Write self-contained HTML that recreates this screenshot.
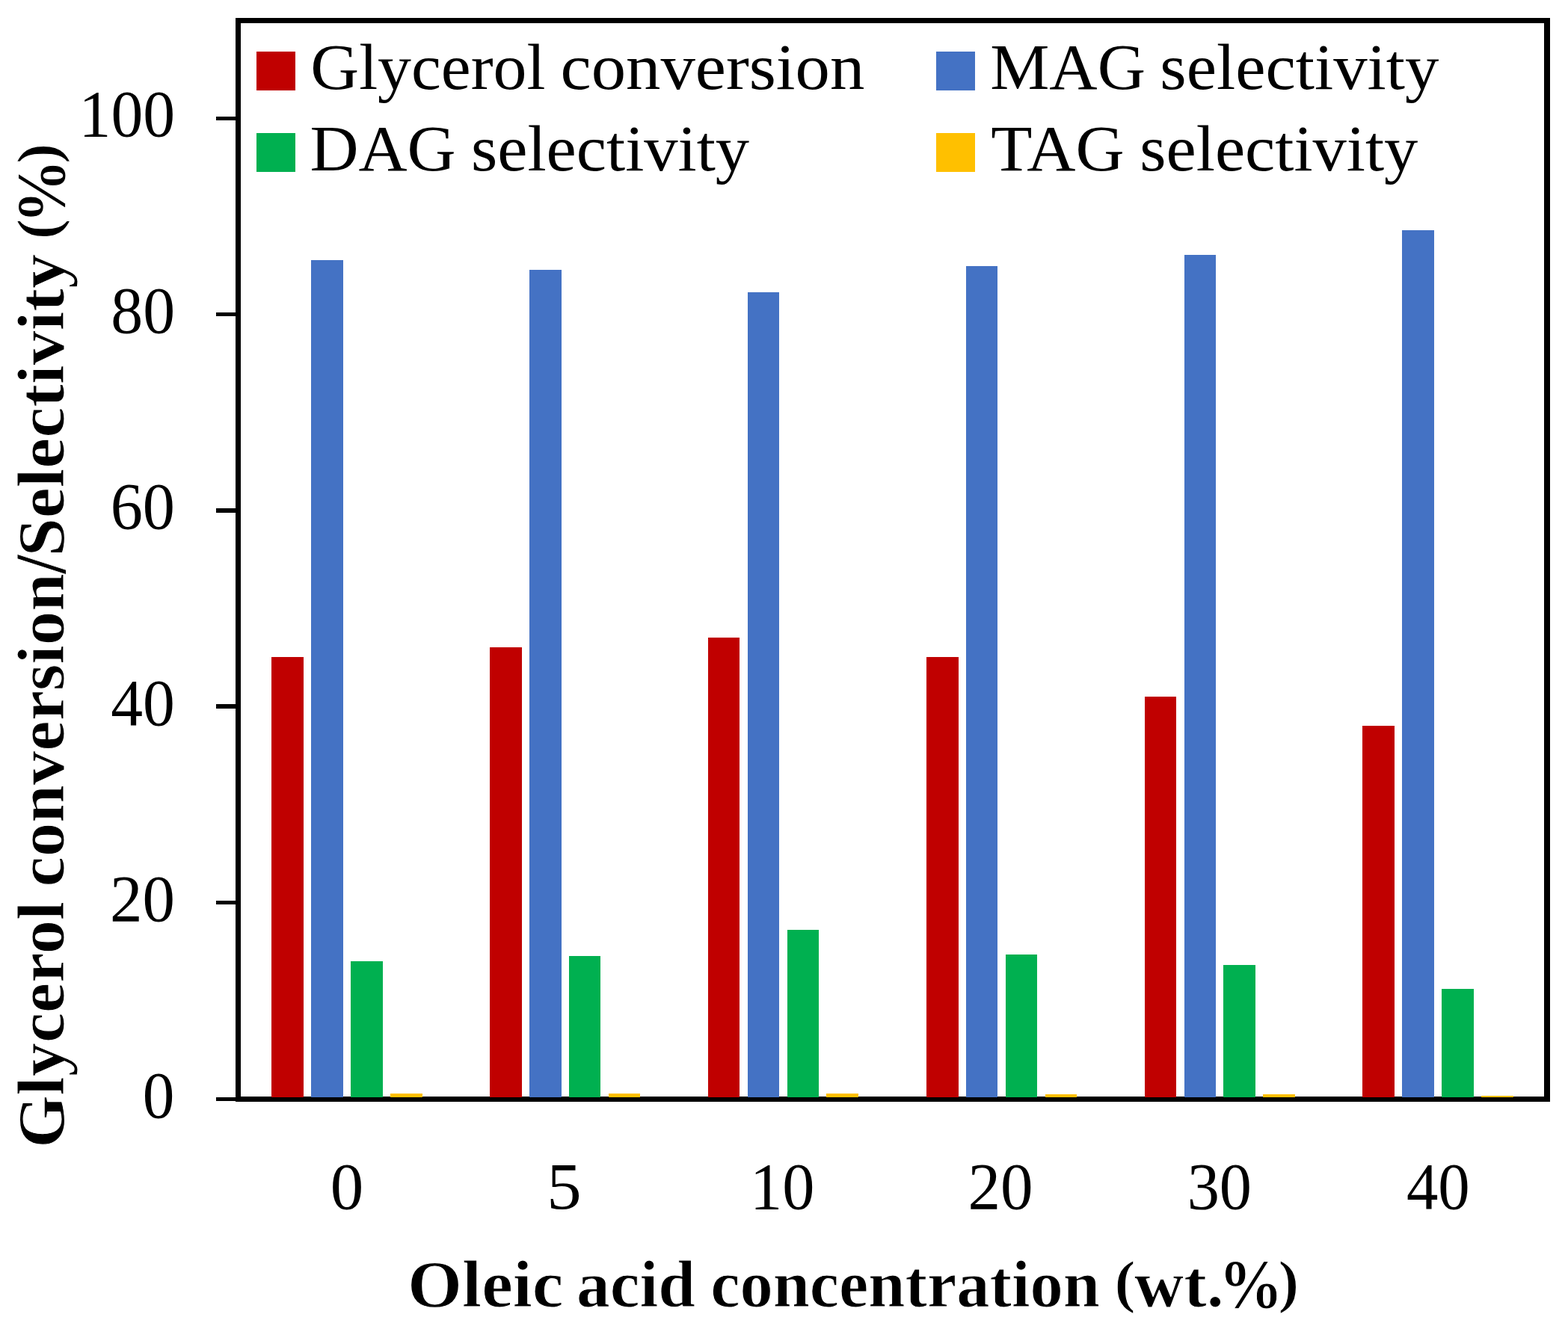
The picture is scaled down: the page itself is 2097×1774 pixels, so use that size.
<!DOCTYPE html>
<html lang="en">
<head>
<meta charset="utf-8">
<title>Glycerol conversion and selectivity versus oleic acid concentration</title>
<style>
html,body{margin:0;padding:0;background:#fff;}
body{width:2097px;height:1774px;overflow:hidden;}
svg{display:block;}
text{font-family:'Liberation Serif', 'DejaVu Serif', serif;fill:#000;}
</style>
</head>
<body>
<svg width="2097" height="1774" viewBox="0 0 2097 1774" role="img">
<rect x="0" y="0" width="2097" height="1774" fill="#fff"/>
<g id="plot-border" fill="#000" shape-rendering="crispEdges">
<rect x="315" y="24" width="1758" height="7"/>
<rect x="315" y="24" width="7" height="1450"/>
<rect x="2065" y="24" width="8" height="1450"/>
<rect x="315" y="1467" width="1758" height="7"/>
</g>
<g id="bars" shape-rendering="crispEdges">
<g id="glycerol-conversion" fill="#C00000">
<rect x="363" y="879" width="43" height="589"/>
<rect x="655" y="866" width="43" height="602"/>
<rect x="947" y="853" width="42" height="615"/>
<rect x="1239" y="879" width="43" height="589"/>
<rect x="1531" y="932" width="42" height="536"/>
<rect x="1822" y="971" width="43" height="497"/>
</g>
<g id="mag-selectivity" fill="#4472C4">
<rect x="416" y="348" width="43" height="1120"/>
<rect x="708" y="361" width="43" height="1107"/>
<rect x="1000" y="391" width="42" height="1077"/>
<rect x="1292" y="356" width="42" height="1112"/>
<rect x="1584" y="341" width="42" height="1127"/>
<rect x="1875" y="308" width="43" height="1160"/>
</g>
<g id="dag-selectivity" fill="#00B050">
<rect x="469" y="1286" width="43" height="182"/>
<rect x="761" y="1279" width="42" height="189"/>
<rect x="1053" y="1244" width="42" height="224"/>
<rect x="1345" y="1277" width="42" height="191"/>
<rect x="1636" y="1291" width="43" height="177"/>
<rect x="1928" y="1323" width="43" height="145"/>
</g>
<g id="tag-selectivity" fill="#FFC000">
<rect x="522" y="1463" width="43" height="5"/>
<rect x="814" y="1463" width="42" height="5"/>
<rect x="1105" y="1463" width="43" height="5"/>
<rect x="1398" y="1464" width="42" height="4"/>
<rect x="1689" y="1464" width="43" height="4"/>
<rect x="1981" y="1466" width="43" height="2"/>
</g>
</g>
<g id="y-ticks" fill="#000" shape-rendering="crispEdges">
<rect x="289" y="156" width="27" height="5"/>
<rect x="289" y="418" width="27" height="5"/>
<rect x="289" y="680" width="27" height="6"/>
<rect x="289" y="942" width="27" height="6"/>
<rect x="289" y="1205" width="27" height="5"/>
<rect x="289" y="1468" width="27" height="5"/>
</g>
<g id="legend">
<rect x="343" y="69" width="52" height="52" fill="#C00000" shape-rendering="crispEdges"/>
<rect x="1252" y="69" width="52" height="52" fill="#4472C4" shape-rendering="crispEdges"/>
<rect x="343" y="178" width="52" height="52" fill="#00B050" shape-rendering="crispEdges"/>
<rect x="1252" y="178" width="52" height="52" fill="#FFC000" shape-rendering="crispEdges"/>
<text font-size="87"><tspan x="415.29" y="118.80" textLength="314.19" lengthAdjust="spacingAndGlyphs">Glycerol</tspan> <tspan x="749.64" y="118.80" textLength="406.68" lengthAdjust="spacingAndGlyphs">conversion</tspan></text>
<text font-size="87"><tspan x="1324.24" y="118.80" textLength="207.69" lengthAdjust="spacingAndGlyphs">MAG</tspan> <tspan x="1551.35" y="118.80" textLength="372.98" lengthAdjust="spacingAndGlyphs">selectivity</tspan></text>
<text font-size="87"><tspan x="414.41" y="227.70" textLength="195.24" lengthAdjust="spacingAndGlyphs">DAG</tspan> <tspan x="630.06" y="227.70" textLength="372.07" lengthAdjust="spacingAndGlyphs">selectivity</tspan></text>
<text font-size="87"><tspan x="1325.24" y="227.70" textLength="178.45" lengthAdjust="spacingAndGlyphs">TAG</tspan> <tspan x="1524.36" y="227.70" textLength="371.97" lengthAdjust="spacingAndGlyphs">selectivity</tspan></text>
</g>
<g id="y-tick-labels">
<text font-size="89"><tspan x="105.53" y="182.10" textLength="128.60" lengthAdjust="spacingAndGlyphs">100</tspan></text>
<text font-size="89"><tspan x="148.37" y="444.60" textLength="85.76" lengthAdjust="spacingAndGlyphs">80</tspan></text>
<text font-size="89"><tspan x="147.66" y="707.10" textLength="86.29" lengthAdjust="spacingAndGlyphs">60</tspan></text>
<text font-size="89"><tspan x="148.32" y="969.60" textLength="85.61" lengthAdjust="spacingAndGlyphs">40</tspan></text>
<text font-size="89"><tspan x="147.10" y="1232.10" textLength="86.88" lengthAdjust="spacingAndGlyphs">20</tspan></text>
<text font-size="89"><tspan x="190.79" y="1494.60" textLength="42.63" lengthAdjust="spacingAndGlyphs">0</tspan></text>
</g>
<g id="x-tick-labels">
<text font-size="89"><tspan x="441.65" y="1616.50" textLength="44.50" lengthAdjust="spacingAndGlyphs">0</tspan></text>
<text font-size="89"><tspan x="731.22" y="1616.50" textLength="46.43" lengthAdjust="spacingAndGlyphs">5</tspan></text>
<text font-size="89"><tspan x="1002.98" y="1616.50" textLength="86.38" lengthAdjust="spacingAndGlyphs">10</tspan></text>
<text font-size="89"><tspan x="1294.38" y="1616.50" textLength="87.20" lengthAdjust="spacingAndGlyphs">20</tspan></text>
<text font-size="89"><tspan x="1587.68" y="1616.50" textLength="86.38" lengthAdjust="spacingAndGlyphs">30</tspan></text>
<text font-size="89"><tspan x="1880.93" y="1616.50" textLength="84.87" lengthAdjust="spacingAndGlyphs">40</tspan></text>
</g>
<text id="x-title" font-size="88" font-weight="bold" stroke="#fff" stroke-width="1" stroke-linejoin="round"><tspan x="545.14" y="1748.20" textLength="208.36" lengthAdjust="spacingAndGlyphs">Oleic</tspan> <tspan x="771.10" y="1748.20" textLength="158.88" lengthAdjust="spacingAndGlyphs">acid</tspan> <tspan x="950.18" y="1748.20" textLength="520.70" lengthAdjust="spacingAndGlyphs">concentration</tspan> <tspan x="1490.48" y="1740.50" font-size="78" textLength="28.04" lengthAdjust="spacingAndGlyphs">(</tspan><tspan x="1517.12" y="1748.20" textLength="119.52" lengthAdjust="spacingAndGlyphs">wt.</tspan><tspan x="1629.85" y="1749.20" font-size="94" textLength="86.01" lengthAdjust="spacingAndGlyphs">%</tspan><tspan x="1709.61" y="1740.50" font-size="78" textLength="27.63" lengthAdjust="spacingAndGlyphs">)</tspan></text>
<text id="y-title" transform="translate(85.0 0) rotate(-90)" font-size="88" font-weight="bold" stroke="#fff" stroke-width="1" stroke-linejoin="round"><tspan x="-1535.89" y="0.00" textLength="330.08" lengthAdjust="spacingAndGlyphs">Glycerol</tspan> <tspan x="-1186.62" y="0.00" textLength="419.44" lengthAdjust="spacingAndGlyphs">conversion</tspan><tspan x="-767.66" y="2.00" font-size="97" textLength="25.48" lengthAdjust="spacingAndGlyphs">/</tspan><tspan x="-744.60" y="0.00" textLength="404.80" lengthAdjust="spacingAndGlyphs">Selectivity</tspan> <tspan x="-320.21" y="-7.70" font-size="78" textLength="27.35" lengthAdjust="spacingAndGlyphs">(</tspan><tspan x="-299.12" y="1.00" font-size="94" textLength="85.76" lengthAdjust="spacingAndGlyphs">%</tspan><tspan x="-219.04" y="-7.70" font-size="78" textLength="27.22" lengthAdjust="spacingAndGlyphs">)</tspan></text>
</svg>
</body>
</html>
